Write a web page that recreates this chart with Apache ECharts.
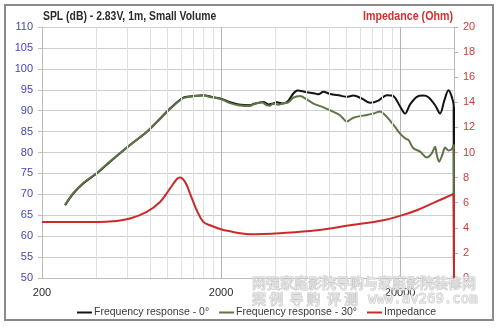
<!DOCTYPE html>
<html>
<head>
<meta charset="utf-8">
<script src="https://cdn.jsdelivr.net/npm/echarts@6/dist/echarts.min.js"></script>
<style>
  html, body { margin: 0; padding: 0; background: #fff; }
  #chart { width: 500px; height: 330px; }
</style>
</head>
<body>
<div id="chart"></div>
<script>
// Frequency response on axis (0°), in Hz / dB SPL
const FREQ_0 = [269, 299, 340, 404, 480, 620, 769, 875, 1038, 1206,
  1286, 1592, 1774, 2018, 2246, 2500, 2904, 3030, 3447, 3675,
  3920, 4096, 4458, 4754, 5070, 5338, 6022, 6700, 6992, 7458,
  8128, 9240, 10070, 10960, 12220, 13600, 15130, 16850, 18350, 20000,
  21320, 22740, 24790, 26980, 28780, 31380, 33440, 35360, 37220, 38900,
  39900, 40000];
const SPL_0 = [67.4, 70.2, 72.6, 75.0, 77.8, 81.8, 84.9, 87.3, 90.5, 92.9,
  93.3, 93.7, 93.3, 92.8, 92.0, 91.5, 91.3, 91.6, 92.1, 91.5,
  91.7, 92.0, 91.7, 92.4, 94.1, 94.8, 94.4, 94.1, 93.9, 94.5,
  94.0, 93.6, 93.3, 93.6, 92.9, 91.9, 92.4, 93.7, 93.5, 91.0,
  89.3, 91.5, 93.3, 93.6, 93.2, 91.3, 89.3, 92.5, 94.9, 93.3,
  90.9, 50];

// Frequency response off axis (30°)
const FREQ_30 = [269, 299, 340, 404, 480, 620, 769, 875, 1038, 1206,
  1286, 1592, 1774, 2018, 2246, 2500, 2904, 3030, 3376, 3600,
  3757, 3920, 4180, 4458, 4754, 5070, 5520, 6022, 6560, 7458,
  8128, 9240, 10070, 10960, 11950, 12750, 14200, 15460, 16140, 17200,
  18750, 20000, 21320, 22260, 23720, 25880, 28180, 30060, 31380, 32060,
  33020, 34460, 35680, 37220, 38900, 39900, 40000];
const SPL_30 = [67.5, 70.3, 72.7, 75.1, 77.9, 81.8, 84.9, 87.2, 90.4, 92.8,
  93.2, 93.6, 93.2, 92.7, 91.8, 91.3, 91.1, 91.5, 92.0, 91.3,
  91.2, 91.7, 91.4, 91.8, 92.0, 93.1, 93.5, 92.7, 91.7, 90.8,
  90.1, 88.9, 87.4, 88.3, 88.7, 88.9, 89.3, 89.8, 89.3, 88.1,
  86.1, 84.5, 83.4, 83.0, 81.0, 80.2, 78.8, 79.8, 81.4, 79.4,
  77.8, 79.5, 81.2, 80.5, 80.8, 81.9, 50];

// Impedance magnitude, in Hz / Ohm
const FREQ_Z = [200, 404, 500, 620, 769, 912, 1038, 1131, 1180, 1258,
  1342, 1463, 1592, 1736, 2018, 2246, 2554, 2904, 4458, 6852,
  10520, 16140, 20000, 24790, 30700, 39000, 39900, 40000];
const IMPEDANCE = [4.47, 4.47, 4.52, 4.74, 5.27, 6.06, 7.13, 7.87, 8.0, 7.66,
  6.73, 5.4, 4.47, 4.2, 3.86, 3.72, 3.57, 3.49, 3.59, 3.8,
  4.2, 4.6, 4.95, 5.4, 5.98, 6.65, 6.72, 0];

// Frequency axis: decades start at 200 Hz, minor lines every 200 / 2000 Hz
const X_MIN = 200, X_MAX = 40000;
const X_TICK_LABELS = ['200', '2000', '20000'];
const MINOR_X = [400, 600, 800, 1000, 1200, 1400, 1600, 1800,
  4000, 6000, 8000, 10000, 12000, 14000, 16000, 18000];

const NAMES = ['Frequency response - 0°', 'Frequency response - 30°', 'Impedance'];
const TITLE_LEFT = 'SPL (dB) - 2.83V, 1m, Small Volume';
const TITLE_RIGHT = 'Impedance (Ohm)';
const FONT = "'Liberation Sans', Arial, sans-serif";

const COLORS = ['#141414', '#5f7447', '#cc2a2a'];

const pairs = (xs, ys) => xs.map((x, i) => [x, ys[i]]);
// closing segment of a sweep (last two samples), drawn straight
const tail = (xs, ys) => pairs(xs.slice(-2), ys.slice(-2));

function curve(i, xs, ys, yAxisIndex, smooth) {
  const n = xs.length;
  return [
    {
      name: NAMES[i], type: 'line', xAxisIndex: 0, yAxisIndex, z: 3 + i, clip: false,
      data: pairs(xs, ys), showSymbol: false, smooth,
      lineStyle: { color: COLORS[i], width: 2 }, itemStyle: { color: COLORS[i] }
    },
    {
      name: NAMES[i], type: 'line', xAxisIndex: 0, yAxisIndex, z: 6 + i,
      data: tail(xs, ys), showSymbol: false, smooth: false,
      lineStyle: { color: COLORS[i], width: 2 }, itemStyle: { color: COLORS[i] },
      // end-of-sweep fall-off at the top frequency
      markLine: {
        silent: true, symbol: 'none', label: { show: false },
        lineStyle: { color: COLORS[i], width: 2, type: 'solid' },
        data: [[{ coord: [xs[n - 1], ys[n - 2]] }, { coord: [xs[n - 1], ys[n - 1]] }]]
      }
    }
  ];
}

const chart = echarts.init(document.getElementById('chart'), null, { renderer: 'canvas' });

chart.setOption({
  animation: false,
  backgroundColor: '#fff',
  textStyle: { fontFamily: FONT },
  legend: {
    data: NAMES,
    left: 72, top: 302,
    icon: 'rect', itemWidth: 15, itemHeight: 2, itemGap: 10,
    textStyle: { fontFamily: FONT, fontSize: 10.5, color: '#3a3a3a', padding: [0, 0, 0, -3] }
  },
  grid: { left: 42, right: 46, top: 27, bottom: 52 },
  xAxis: [
    {
      type: 'log', logBase: 10, min: X_MIN, max: X_MAX,
      position: 'bottom',
      axisLine: { show: false }, axisTick: { show: false },
      axisLabel: { show: false }, splitLine: { show: false }
    },
    {
      // decade positions of the log axis, used for labels and major lines
      type: 'value', min: 0, max: Math.log10(X_MAX / X_MIN), interval: 1,
      position: 'bottom',
      axisLine: { show: true, lineStyle: { color: '#bdbdbd', width: 1 } },
      axisTick: { show: false },
      axisLabel: {
        margin: 9, fontSize: 11, color: '#2b2b2b', showMaxLabel: false,
        formatter: (v, i) => X_TICK_LABELS[i] || ''
      },
      splitLine: { show: true, lineStyle: { color: '#b4b4b4', width: 1 } }
    }
  ],
  yAxis: [
    {
      type: 'value', position: 'left', min: 50, max: 110, interval: 5,
      axisLine: { show: true, lineStyle: { color: '#bdbdbd' } },
      axisTick: { show: true, length: 4, lineStyle: { color: '#bdbdbd' } },
      axisLabel: { margin: 9, fontSize: 11, color: '#4545b5' },
      splitLine: { show: true, lineStyle: { color: '#cfcfcf', width: 1 } }
    },
    {
      type: 'value', position: 'right', min: 0, max: 20, interval: 2,
      axisLine: { show: true, lineStyle: { color: '#bdbdbd' } },
      axisTick: { show: true, length: 4, lineStyle: { color: '#d9a0a0' } },
      axisLabel: { margin: 9, fontSize: 11, color: '#c9403f' },
      splitLine: { show: false }
    }
  ],
  series: [
    {
      // minor vertical grid lines of the log axis
      type: 'line', xAxisIndex: 0, yAxisIndex: 0, data: [], z: 1, silent: true,
      markLine: {
        silent: true, symbol: 'none', label: { show: false },
        lineStyle: { color: '#e0e0e0', width: 1, type: 'solid' },
        data: MINOR_X.map(v => ({ xAxis: v }))
      }
    },
    ...curve(0, FREQ_0, SPL_0, 0, 0.3),
    ...curve(1, FREQ_30, SPL_30, 0, 0.3),
    ...curve(2, FREQ_Z, IMPEDANCE, 1, 0.4)
  ],
  graphic: [
    {
      type: 'rect', z: 100, silent: true,
      shape: { x: 5, y: 5, width: 488, height: 315 },
      style: { fill: 'none', stroke: '#8a8a8a', lineWidth: 2 }
    },
    {
      // axis titles, set in a condensed face
      type: 'text', z: 100, silent: true, x: 43, y: 16, scaleX: 0.8,
      style: {
        text: TITLE_LEFT, font: "bold 13px 'Liberation Sans'",
        fill: '#2b2b2b', align: 'left', verticalAlign: 'middle'
      }
    },
    {
      type: 'text', z: 100, silent: true, x: 453, y: 16, scaleX: 0.82,
      style: {
        text: TITLE_RIGHT, font: "bold 13px 'Liberation Sans'",
        fill: '#d0302f', align: 'right', verticalAlign: 'middle'
      }
    },
    {
      type: 'text', z: 100, silent: true, x: 252, y: 276,
      style: {
        text: '网强家庭影院导购与家庭影院装修网',
        font: "14px 'Noto Sans CJK SC'",
        fill: 'rgba(255,255,255,0.55)', stroke: '#c6c6c6', lineWidth: 1
      }
    },
    {
      type: 'text', z: 100, silent: true, x: 252, y: 292,
      style: {
        text: '案 例  导 购  评 测',
        font: "14px 'Noto Sans CJK SC'",
        fill: 'rgba(255,255,255,0.55)', stroke: '#c6c6c6', lineWidth: 1
      }
    },
    {
      type: 'text', z: 100, silent: true, x: 368, y: 292,
      style: {
        text: 'www.av269.com',
        font: "14px 'DejaVu Sans Mono'",
        fill: 'rgba(255,255,255,0.55)', stroke: '#c6c6c6', lineWidth: 1
      }
    }
  ]
});
</script>
</body>
</html>
